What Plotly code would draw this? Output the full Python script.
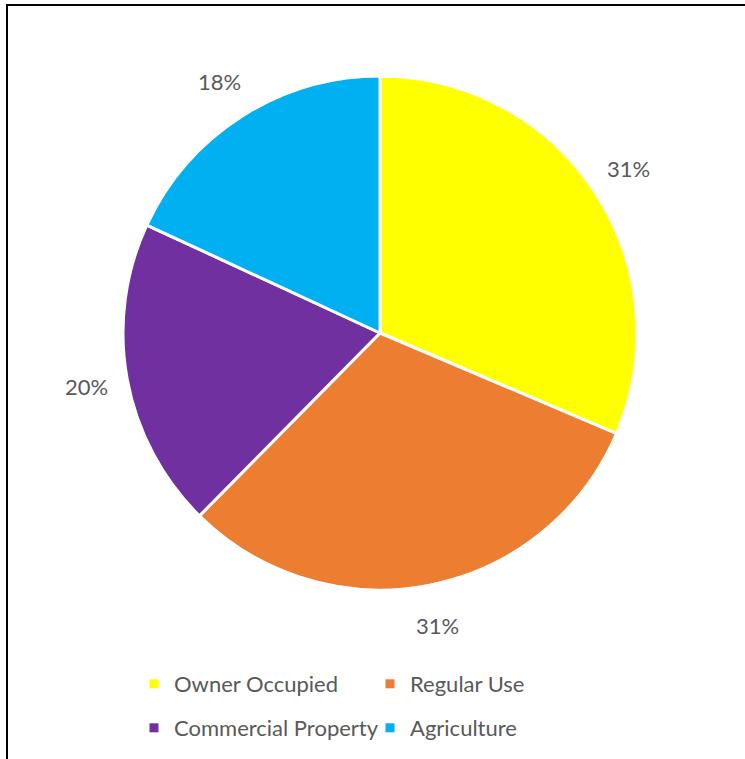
import math
import plotly.graph_objects as go

categories = ["Owner Occupied", "Regular Use", "Commercial Property", "Agriculture"]
values = [31.4, 31.0, 19.5, 18.1]
colors = ["#FFFF00", "#ED7D31", "#7030A0", "#00B0F0"]

W, H = 745, 759
L, R, T, B = 123, 108, 76, 169
pw = W - L - R
ph = H - T - B
FONT = "Lato"
TXT = "#595959"

fig = go.Figure()
fig.add_trace(go.Pie(
    labels=categories,
    values=values,
    sort=False,
    direction="clockwise",
    rotation=0,
    marker=dict(colors=colors, line=dict(color="white", width=3)),
    textinfo="none",
    hoverinfo="label+percent",
    showlegend=False,
    domain=dict(x=[0, 1], y=[0, 1]),
))

# percentage labels placed outside each slice, at the slice's mid-angle
total = sum(values)
cum = 0.0
annotations = []
for v in values:
    mid = (cum + v / 2) / total * 2 * math.pi
    cum += v
    k = 1.16
    annotations.append(dict(
        x=0.5 + 0.5 * k * math.sin(mid), y=0.5 + 0.5 * k * math.cos(mid),
        xref="paper", yref="paper", showarrow=False,
        text=f"{round(v / total * 100)}%",
        font=dict(family=FONT, size=22, color=TXT),
        xanchor="center", yanchor="middle",
    ))

# legend entries (two rows, two per row)
for i, (c, col) in enumerate(zip(categories, colors)):
    fig.add_trace(go.Scatter(
        x=[None], y=[None], mode="markers", name=c,
        marker=dict(symbol="square", size=9, color=col),
        legend="legend" if i < 2 else "legend2",
        hoverinfo="skip",
    ))

def py(page_y):
    return 1 - (page_y - T) / ph

legend_common = dict(
    orientation="h",
    x=(134 - L) / pw, xanchor="left", yanchor="middle",
    font=dict(family=FONT, size=22, color=TXT),
    entrywidth=191,
    traceorder="normal",
    bgcolor="rgba(0,0,0,0)",
)

fig.update_layout(
    width=W, height=H,
    margin=dict(l=L, r=R, t=T, b=B, autoexpand=False),
    paper_bgcolor="white",
    plot_bgcolor="white",
    xaxis=dict(visible=False),
    yaxis=dict(visible=False),
    showlegend=True,
    legend=dict(**legend_common, y=py(684)),
    legend2=dict(**legend_common, y=py(728)),
    annotations=annotations,
    shapes=[dict(
        type="rect", xref="paper", yref="paper",
        x0=(7 - L) / pw, x1=(770 - L) / pw,
        y0=py(800), y1=py(5),
        line=dict(color="black", width=2),
        fillcolor="rgba(0,0,0,0)",
    )],
)

fig.write_html("out.html", config={"displayModeBar": False},
               post_script="document.body.style.margin='0';")
